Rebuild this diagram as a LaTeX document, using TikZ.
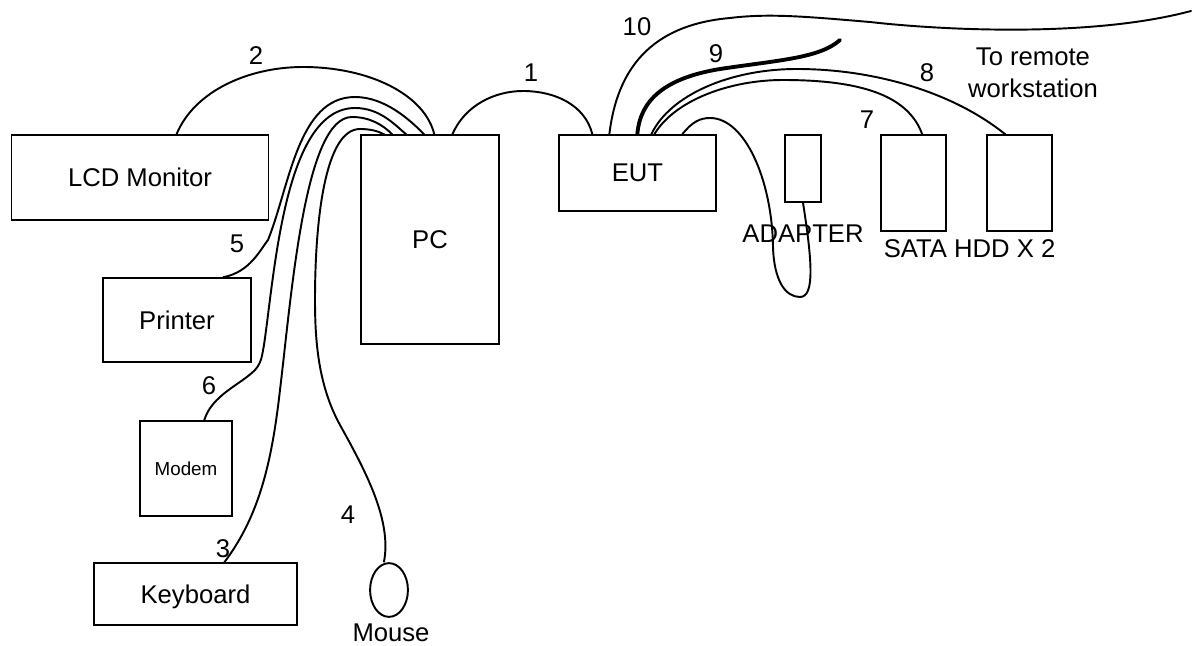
\documentclass[tikz,border=0pt]{standalone}
\usepackage{fontspec}
\setmainfont{Liberation Sans}
\usetikzlibrary{calc}

\begin{document}
\begin{tikzpicture}[x=0.02cm, y=-0.02cm, every node/.style={font=\fontsize{14.6}{17.9}\selectfont},
  box/.style={draw, line width=1.1pt, inner sep=0pt, align=center, text depth=0pt},
  cable/.style={line width=1.1pt, line cap=round},
  heavy/.style={line width=2.2pt, line cap=round},
  lbl/.style={inner sep=0pt, align=center}]
\useasboundingbox (0,0) rectangle (1192,645);
% equipment
\node[box, minimum width=258*0.5669pt, minimum height=85*0.5669pt] (lcd) at (140,177.5) {LCD Monitor};
\node[box, minimum width=148*0.5669pt, minimum height=84*0.5669pt] (printer) at (177,320) {Printer};
\node[box, minimum width=92*0.5669pt, minimum height=95*0.5669pt, font=\fontsize{10.7}{12}\selectfont] (modem) at (186,468.5) {Modem};
\node[box, minimum width=203*0.5669pt, minimum height=62*0.5669pt] (keyboard) at (195.5,594) {Keyboard};
\node[box, minimum width=138*0.5669pt, minimum height=209*0.5669pt] (pc) at (430,239.5) {PC};
\node[box, minimum width=157*0.5669pt, minimum height=76*0.5669pt] (eut) at (637.5,173) {EUT};
\node[box, minimum width=36*0.5669pt, minimum height=67*0.5669pt] (adapter) at (803,168.5) {};
\node[box, minimum width=65*0.5669pt, minimum height=96*0.5669pt] (sata) at (913.5,183) {};
\node[box, minimum width=65*0.5669pt, minimum height=96*0.5669pt] (hdd) at (1019.5,183) {};
\node[box, circle, minimum width=38*0.5669pt, yscale=1.42] (mouse) at (389,590) {};
% texts
\node[lbl, text depth=0pt] (adaptertext) at (803,234) {ADAPTER};
\node[lbl, text depth=0pt] (satatext) at (969.5,248.5) {SATA HDD X 2};
\node[lbl, text depth=0pt] (mousetext) at (391,633) {Mouse};
\node[lbl] (remote) at (1033,73) {To remote\\workstation};
\node[lbl] (n1) at (531,73) {1};
\node[lbl] (n2) at (256,56) {2};
\node[lbl] (n3) at (223,549) {3};
\node[lbl] (n4) at (348,515) {4};
\node[lbl] (n5) at (237,244) {5};
\node[lbl] (n6) at (209,386) {6};
\node[lbl] (n7) at (867,120) {7};
\node[lbl] (n8) at (927,73) {8};
\node[lbl] (n9) at (716,54) {9};
\node[lbl] (n10) at (637,27) {10};
% free ends
\coordinate (far) at (1191,11);
\coordinate (loose) at (840,40);
% cables
\draw[cable] ($(pc.north west)+(92,0)$) .. controls (465,105) and (495,91) .. (523,91) .. controls (555,91) and (585,105) .. ($(eut.north west)+(34,0)$);
\draw[cable] ($(lcd.north west)+(166,0)$) .. controls (195,90) and (250,67) .. (303,67) .. controls (370,67) and (425,95) .. ($(pc.north west)+(74,0)$);
\draw[cable] ($(printer.north west)+(121,0)$) .. controls (250,272) and (260,250) .. (268,240) .. controls (290,185) and (298,97) .. (355,97) .. controls (385,97) and (410,120) .. ($(pc.north west)+(64,0)$);
\draw[cable] ($(modem.north west)+(65,0)$) .. controls (212,395) and (240,385) .. (255,370) .. controls (262,362) and (262,355) .. (264,345) .. controls (275,270) and (285,108) .. (355,108) .. controls (380,108) and (395,125) .. ($(pc.north west)+(46,0)$);
\draw[cable] ($(keyboard.north west)+(131,0)$) .. controls (260,515) and (272,460) .. (280,390) .. controls (292,290) and (305,117) .. (352,117) .. controls (370,117) and (383,125) .. ($(pc.north west)+(32,0)$);
\draw[cable] ($(mouse.north)+(-5,0)$) .. controls (392,520) and (365,470) .. (340,425) .. controls (318,385) and (315,340) .. (315,300) .. controls (315,220) and (325,129) .. (360,129) .. controls (370,129) and (378,131) .. ($(pc.north west)+(24,0)$);
\draw[cable] ($(eut.north west)+(51,0)$) .. controls (617,70) and (650,25) .. (730,18) .. controls (770,13) and (810,17) .. (870,22) .. controls (940,30) and (1090,38) .. (far);
\draw[heavy] ($(eut.north west)+(79,0)$) .. controls (640,100) and (665,78) .. (720,69) .. controls (780,60) and (820,58) .. (loose);
\draw[cable] ($(eut.north west)+(93,0)$) .. controls (670,95) and (730,69) .. (797,69) .. controls (870,69) and (950,90) .. ($(hdd.north west)+(19,0)$);
\draw[cable] ($(eut.north west)+(96,0)$) .. controls (675,100) and (730,80) .. (783,80) .. controls (860,80) and (908,95) .. ($(sata.north west)+(42,0)$);
\draw[cable] ($(eut.north west)+(124,0)$) .. controls (692,122) and (700,118) .. (710,118) .. controls (745,118) and (772,180) .. (773,247) .. controls (774,280) and (785,297) .. (800,297) .. controls (815,297) and (812,260) .. (adapter.south);
\end{tikzpicture}
\end{document}
